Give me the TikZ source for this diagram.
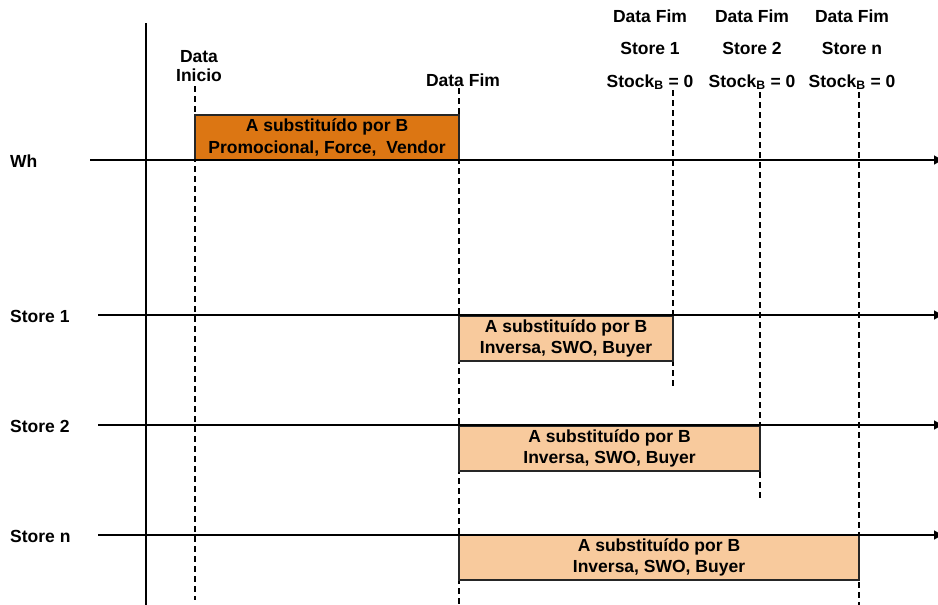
\documentclass[tikz,border=0pt]{standalone}
\usepackage{fontspec}
\setmainfont{Liberation Sans}
\usetikzlibrary{arrows.meta}
\begin{document}
\begin{tikzpicture}[x=1pt,y=-1pt,
  lbl/.style={font=\fontsize{17.5}{20}\selectfont\bfseries, inner sep=0pt, align=center},
  toplbl/.style={lbl, font=\fontsize{17.5}{32.5}\selectfont\bfseries},
  timeline/.style={line width=1.8pt, -{Latex[length=10pt,width=10pt]}},
  mark line/.style={line width=1.3pt, dash pattern=on 6pt off 4pt},
  period/.style={draw=black!85, line width=1.4pt, inner sep=0pt, align=center,
    minimum height=45pt, font=\fontsize{17.5}{21.5}\selectfont\bfseries},
  promo/.style={period, fill=promoorange},
  storebox/.style={period, fill=storepeach}]
\definecolor{promoorange}{HTML}{DC7613}
\definecolor{storepeach}{HTML}{F8CA9D}
\useasboundingbox (0,0) rectangle (938,605);

% vertical axis
\coordinate (axtop) at (146,23);
\coordinate (axbot) at (146,605);
\draw[line width=1.6pt] (axtop) -- (axbot);

% row labels
\node[lbl, anchor=west] (lwh) at (10,161) {Wh};
\node[lbl, anchor=west] (ls1) at (10,316) {Store 1};
\node[lbl, anchor=west] (ls2) at (10,426) {Store 2};
\node[lbl, anchor=west] (lsn) at (10,536) {Store n};

% timelines (tips run just past the right page edge)
\coordinate (wh0) at (90,160);   \coordinate (wh1) at (944,160);
\coordinate (s10) at (98,315);   \coordinate (s11) at (944,315);
\coordinate (s20) at (98,425);   \coordinate (s21) at (944,425);
\coordinate (sn0) at (98,535);   \coordinate (sn1) at (944,535);

% top labels
\node[lbl] (dini) at (199,66) {Data\\[-1pt]Inicio};
\node[lbl] (dfim) at (463,80) {Data Fim};
\node[toplbl] (df1) at (650,49.5) {Data Fim\\Store 1\\Stock\textsubscript{B} = 0};
\node[toplbl] (df2) at (752,49.5) {Data Fim\\Store 2\\Stock\textsubscript{B} = 0};
\node[toplbl] (dfn) at (852,49.5) {Data Fim\\Store n\\Stock\textsubscript{B} = 0};

% dashed date markers
\coordinate (m0a) at (195,86);  \coordinate (m0b) at (195,600);
\coordinate (m1a) at (459,88);  \coordinate (m1b) at (459,605);
\coordinate (m2a) at (673,90);  \coordinate (m2b) at (673,386);
\coordinate (m3a) at (760,92);  \coordinate (m3b) at (760,498);
\coordinate (m4a) at (859,92);  \coordinate (m4b) at (859,605);
\foreach \m in {0,...,4} \draw[mark line] (m\m a) -- (m\m b);

% periods
\node[promo, minimum width=264pt] (pwh) at (327,137.5)
  {A substituído por B\\Promocional, Force,\ \ Vendor};
\node[storebox, minimum width=214pt] (ps1) at (566,338.5)
  {A substituído por B\\Inversa, SWO, Buyer};
\node[storebox, minimum width=301pt] (ps2) at (609.5,448.5)
  {A substituído por B\\Inversa, SWO, Buyer};
\node[storebox, minimum width=400pt] (psn) at (659,557.5)
  {A substituído por B\\Inversa, SWO, Buyer};

\draw[timeline] (wh0) -- (wh1);
\draw[timeline] (s10) -- (s11);
\draw[timeline] (s20) -- (s21);
\draw[timeline] (sn0) -- (sn1);
\end{tikzpicture}
\end{document}
